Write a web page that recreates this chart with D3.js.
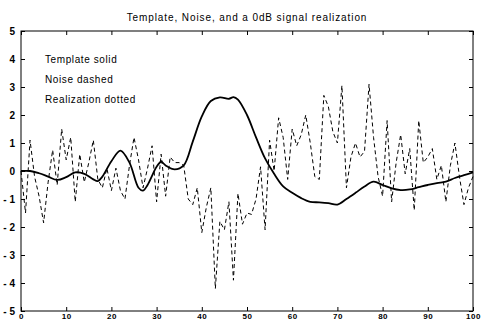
<!DOCTYPE html>
<html><head><meta charset="utf-8">
<script src="https://cdn.jsdelivr.net/npm/d3@7"></script>
<style>
html,body{margin:0;padding:0;background:#fff;}
svg{display:block;}
text{font-family:"Liberation Sans",Arial,Helvetica,sans-serif;fill:#000;}
</style></head>
<body><svg id="c" width="481" height="320"></svg>
<script>
const title = "Template, Noise, and a 0dB signal realization";
const legendLabels = ["Template solid", "Noise dashed", "Realization dotted"];
const xTicks = [0,10,20,30,40,50,60,70,80,90,100];
const yTicks = [5,4,3,2,1,0,-1,-2,-3,-4,-5];

// Template (solid), sampled positions and values
const templateX = [0,2,4,6,8,10,12,14,16,17,18,20,22,24,26,27,28,30,31,32,34,36,38,40,42,44,46,47,48,50,52,54,56,58,60,62,64,66,68,70,72,74,76,78,80,82,84,86,88,90,92,94,96,98,100];
const templateY = [0,0,-0.08,-0.2,-0.32,-0.22,-0.05,-0.1,-0.3,-0.36,-0.2,0.35,0.73,0.3,-0.6,-0.7,-0.5,0.15,0.33,0.2,0.06,0.2,1.05,1.95,2.5,2.63,2.58,2.64,2.55,2.0,1.2,0.45,-0.1,-0.55,-0.78,-0.97,-1.1,-1.12,-1.15,-1.2,-1.0,-0.78,-0.55,-0.38,-0.5,-0.62,-0.68,-0.66,-0.58,-0.5,-0.43,-0.38,-0.25,-0.15,-0.05];

// Noise (dashed), one value per sample x = 0..100
const noiseY = [0.0,-1.5,1.1,-0.2,-0.9,-1.85,-0.4,0.75,-0.5,1.5,
 0.4,1.2,-1.1,0.6,-0.4,0.3,1.1,-0.3,-0.6,0.1,
 -0.7,0.1,-0.7,-1.0,0.2,1.2,0.4,-0.6,0.1,0.9,
 -1.1,0.6,-0.9,0.5,0.3,0.3,0.2,-1.0,-1.2,-0.6,
 -2.2,-1.3,-0.6,-4.2,-1.8,-2.1,-1.1,-3.9,-0.8,-1.9,
 -1.5,-1.55,-1.0,0.15,-2.1,1.1,0.0,1.9,1.2,-0.3,
 1.5,0.9,1.3,2.0,1.0,-0.2,-0.3,2.7,2.3,1.4,
 1.0,3.05,-0.6,0.5,1.0,0.5,0.7,3.1,1.2,-0.2,
 -0.9,1.8,-1.1,0.3,1.3,-0.1,0.8,-1.4,1.8,0.3,
 0.5,0.8,-0.3,0.2,-1.1,0.2,1.0,-0.2,-1.2,-0.6,-0.2];

const svg = d3.select("#c");
const L = 21, R = 473, T = 31, B = 311;
const x = d3.scaleLinear().domain([0,100]).range([L,R]);
const y = d3.scaleLinear().domain([-5,5]).range([B,T]);

// frame
svg.append("rect").attr("x",L).attr("y",T).attr("width",R-L).attr("height",B-T)
  .attr("fill","none").attr("stroke","#000").attr("stroke-width",1);

const axB = svg.append("g").attr("transform",`translate(0,${B})`)
  .call(d3.axisBottom(x).tickValues(xTicks).tickSizeInner(-4).tickSizeOuter(0).tickPadding(2));
const axL = svg.append("g").attr("transform",`translate(${L},0)`)
  .call(d3.axisLeft(y).tickValues(yTicks).tickSizeInner(-4).tickSizeOuter(0).tickPadding(6)
  .tickFormat(d => d < 0 ? "- " + Math.abs(d) : String(d)));
const axT = svg.append("g").attr("transform",`translate(0,${T})`)
  .call(d3.axisTop(x).tickValues(xTicks).tickSizeInner(-4).tickSizeOuter(0).tickFormat(""));
const axR = svg.append("g").attr("transform",`translate(${R},0)`)
  .call(d3.axisRight(y).tickValues(yTicks).tickSizeInner(-4).tickSizeOuter(0).tickFormat(""));
[axB,axL,axT,axR].forEach(g => {
  g.select(".domain").remove();
  g.selectAll("line").attr("stroke","#000");
  g.selectAll("text").style("font-size","10px").style("font-weight","bold");
});
axB.selectAll("text").attr("y",2).attr("dy","0.71em").style("font-size","8px").style("letter-spacing","0.5px");

// noise dashed
const noiseLine = d3.line().x((d,i)=>x(i)).y(d=>y(d));
svg.append("path").datum(noiseY).attr("d",noiseLine)
  .attr("fill","none").attr("stroke","#000").attr("stroke-width",1)
  .attr("stroke-dasharray","4,3");

// template solid
const tLine = d3.line().x(d=>x(d[0])).y(d=>y(d[1])).curve(d3.curveCatmullRom);
svg.append("path").datum(templateX.map((v,i)=>[v,templateY[i]])).attr("d",tLine)
  .attr("fill","none").attr("stroke","#000").attr("stroke-width",1.8);

// title
svg.append("text").attr("x",(L+R)/2).attr("y",21).attr("text-anchor","middle")
  .style("font-size","10px").style("letter-spacing","0.9px").text(title);

// legend text
legendLabels.forEach((t,i)=>{
  svg.append("text").attr("x",45).attr("y",63+i*20)
    .style("font-size","10px").style("letter-spacing","0.6px").text(t);
});
</script></body></html>
